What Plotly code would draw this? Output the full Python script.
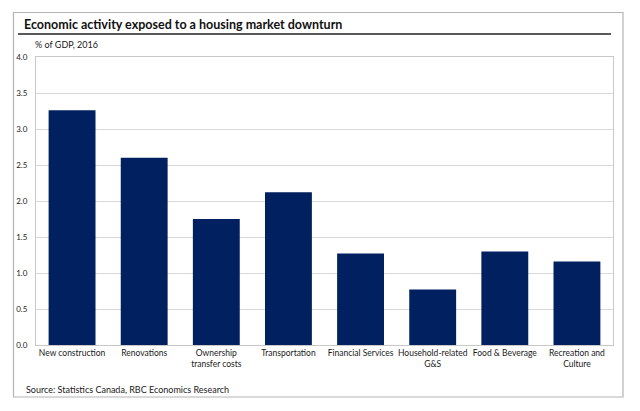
import plotly.graph_objects as go

# data
categories = ["New construction", "Renovations", "Ownership<br>transfer costs", "Transportation",
              "Financial Services", "Household-related<br>G&S", "Food & Beverage", "Recreation and<br>Culture"]
values = [3.26, 2.60, 1.75, 2.12, 1.27, 0.77, 1.30, 1.16]
y_ticks = [0.0, 0.5, 1.0, 1.5, 2.0, 2.5, 3.0, 3.5, 4.0]

W, H = 640, 411
L, R, T, B = 36, 27, 57, 66

# pixel -> paper helpers for the frame and the title rule
def px(x):
    return (x - L) / (W - L - R)

def py(y):
    return (H - B - y) / (H - T - B)

fig = go.Figure(go.Bar(x=categories, y=values, marker=dict(color="#002060", line=dict(width=0)), width=0.65))

fig.update_layout(
    width=W, height=H,
    margin=dict(l=L, r=R, t=T, b=B),
    paper_bgcolor="white", plot_bgcolor="white",
    font=dict(family="Lato, Open Sans, sans-serif", color="#1a1a1a"),
    showlegend=False,
    bargap=0.35,
    xaxis=dict(tickfont=dict(size=8.5), tickangle=0, showline=True, linecolor="#c8c8c8", linewidth=1,
               ticks="", mirror=True),
    yaxis=dict(range=[0, 4], tickvals=y_ticks, tickformat=".1f", tickfont=dict(size=8),
               showgrid=True, gridcolor="#d9d9d9", gridwidth=1, showline=True, linecolor="#c8c8c8",
               mirror=True, zeroline=False, ticks="", ticklabelstandoff=6),
    shapes=[
        dict(type="rect", xref="paper", yref="paper", x0=px(13.5), x1=px(623), y0=py(397), y1=py(12.5),
             line=dict(color="#b4b4b4", width=1.2), layer="above"),
        dict(type="line", xref="paper", yref="paper", x0=px(18), x1=px(611), y0=py(34), y1=py(34),
             line=dict(color="#222222", width=1.5)),
    ],
    annotations=[
        dict(text="<b>Economic activity exposed to a housing market downturn</b>", xref="paper", yref="paper",
             x=px(22), y=py(25), xanchor="left", yanchor="middle", showarrow=False,
             font=dict(size=12.5, color="#111111")),
        dict(text="% of GDP, 2016", xref="paper", yref="paper", x=px(33), y=py(45),
             xanchor="left", yanchor="middle", showarrow=False, font=dict(size=9)),
        dict(text="Source: Statistics Canada, RBC Economics Research", xref="paper", yref="paper",
             x=px(24), y=py(389), xanchor="left", yanchor="middle", showarrow=False, font=dict(size=9)),
    ],
)

fig.write_html("out.html", config={"displayModeBar": False},
               post_script="document.body.style.margin='0';")
